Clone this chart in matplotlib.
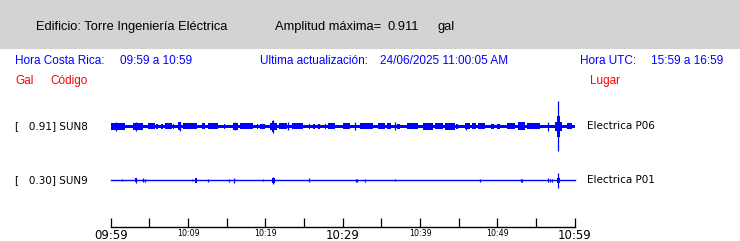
import matplotlib.pyplot as plt
from matplotlib.patches import Rectangle

# header texts
building = 'Edificio: Torre Ingeniería Eléctrica'
max_amp = 0.911
local_range = '09:59 a 10:59'
utc_range = '15:59 a 16:59'
updated = '24/06/2025 11:00:05 AM'

# stations (top to bottom)
codes = ['SUN8', 'SUN9']
peaks = [0.91, 0.30]
places = ['Electrica P06', 'Electrica P01']

# time axis, minutes after 09:59
tick_minutes = list(range(0, 61, 5))
tick_labels = ['09:59', '', '10:09', '', '10:19', '', '10:29', '', '10:39', '', '10:49', '', '10:59']
big_labels = ['09:59', '10:29', '10:59']

# trace envelopes, in gal
# base half width of each trace
sun8_base = 0.055
sun9_base = 0.0
# (start min, end min, half amplitude)
sun8_blocks = [
    (0.0, 1.85, 0.12), (2.93, 4.2, 0.12), (4.87, 5.73, 0.11), (5.9, 6.1, 0.10),
    (6.5, 6.7, 0.10), (7.0, 7.9, 0.11), (8.0, 8.2, 0.10), (8.75, 9.1, 0.15),
    (9.4, 11.1, 0.11), (11.8, 12.2, 0.11), (12.6, 13.9, 0.11), (14.6, 14.8, 0.10),
    (15.85, 16.5, 0.12), (16.7, 18.45, 0.11), (18.9, 19.1, 0.10), (19.3, 20.0, 0.09),
    (20.6, 21.5, 0.13), (20.85, 21.1, 0.19), (21.7, 22.8, 0.11), (23.4, 24.9, 0.11),
    (25.6, 25.8, 0.10), (26.2, 26.4, 0.10), (26.85, 27.1, 0.10), (27.7, 27.9, 0.10),
    (28.1, 29.0, 0.11), (30.1, 31.0, 0.11), (32.2, 33.9, 0.11), (34.6, 35.5, 0.11),
    (35.7, 36.3, 0.11), (37.0, 37.4, 0.10), (38.3, 39.8, 0.11), (40.4, 41.7, 0.12),
    (41.9, 43.0, 0.11), (43.2, 44.5, 0.12), (44.7, 44.95, 0.10), (45.8, 46.5, 0.11),
    (46.7, 47.3, 0.11), (47.5, 48.4, 0.11), (49.2, 49.5, 0.10), (49.9, 50.35, 0.10),
    (51.2, 52.3, 0.11), (52.7, 53.6, 0.14), (53.8, 55.5, 0.11), (57.45, 58.3, 0.16),
    (57.75, 58.05, 0.38), (58.95, 59.6, 0.11),
]
# (minute, half amplitude)
sun8_spikes = [
    (0.69, 0.16), (3.23, 0.16), (9.0, 0.17), (16.1, 0.14), (20.95, 0.23),
    (22.98, 0.14), (31.6, 0.14), (36.7, 0.14), (45.9, 0.13), (56.5, 0.17),
    (57.9, 0.91),
]
sun9_blocks = [
    (3.15, 3.35, 0.07), (10.95, 11.1, 0.09), (20.8, 21.3, 0.08), (57.7, 58.1, 0.10),
]
sun9_spikes = [
    (1.42, 0.04), (3.23, 0.08), (4.22, 0.07), (4.44, 0.05), (10.56, 0.04),
    (12.63, 0.06), (15.3, 0.06), (16.0, 0.09), (19.7, 0.04), (21.0, 0.12),
    (25.7, 0.07), (31.7, 0.06), (31.9, 0.06), (32.9, 0.05), (36.8, 0.04),
    (47.75, 0.05), (53.0, 0.05), (53.2, 0.05), (56.5, 0.07), (56.8, 0.05),
    (57.0, 0.06), (57.9, 0.27),
]

traces = [
    (sun8_base, sun8_blocks, sun8_spikes),
    (sun9_base, sun9_blocks, sun9_spikes),
]

BLUE = '#0000ff'
RED = '#ff0000'
W, H = 740, 241

fig = plt.figure(figsize=(7.4, 2.41), dpi=100)


def fx(px):
    return px / W


def fy(py):
    return 1 - py / H


# grey header band
fig.patches.append(Rectangle((0, fy(49)), 1, 49 / H, transform=fig.transFigure,
                             facecolor='#d3d3d3', edgecolor='none', zorder=0))

title_font = ['Liberation Sans Narrow', 'Liberation Sans', 'DejaVu Sans']
tsize = 9.3
fig.text(fx(36), fy(30), building, fontsize=tsize, family=title_font, va='baseline')
fig.text(fx(275), fy(30), 'Amplitud máxima=', fontsize=tsize, family=title_font, va='baseline')
fig.text(fx(388), fy(30), f'{max_amp:.3f}', fontsize=tsize, family=title_font, va='baseline')
fig.text(fx(437.5), fy(30), 'gal', fontsize=tsize, family=title_font, va='baseline')

row_font = ['Liberation Sans', 'DejaVu Sans']
rsize = 8.5
row = [(15, 'Hora Costa Rica:'), (120, local_range), (260, 'Ultima actualización:'),
       (380, updated), (580.5, 'Hora UTC:'), (651, utc_range)]
for x, s in row:
    fig.text(fx(x), fy(64.5), s, fontsize=rsize, family=row_font, color=BLUE, va='baseline')
for x, s in [(15, 'Gal'), (50, 'Código'), (590, 'Lugar')]:
    fig.text(fx(x), fy(84), s, fontsize=rsize, family=row_font, color=RED, va='baseline')

# trace panel
x0, x1 = 110.7, 574.7
ytop, ybot = 95, 227.3
ax = fig.add_axes([fx(x0), fy(ybot), (x1 - x0) / W, (ybot - ytop) / H])
px_per_gal = 27.5
ax.set_ylim(0, (ybot - ytop) / px_per_gal)
ax.set_xlim(0, 60)
centers_px = [126.3, 180.3]

for (base, blocks, spikes), cpx, code, pk, place in zip(traces, centers_px, codes, peaks, places):
    off = (ybot - cpx) / px_per_gal
    if base > 0:
        ax.fill_between([0, 60.05], off - base, off + base, color=BLUE, lw=0, clip_on=False)
    else:
        ax.plot([0, 60.05], [off, off], color=BLUE, lw=1.0, clip_on=False)
    for t0, t1, a in blocks:
        ax.fill_between([t0, t1], off - a, off + a, color=BLUE, lw=0)
    for t, a in spikes:
        ax.vlines(t, off - a, off + a, color=BLUE, lw=0.9)
    fig.text(fx(15), fy(cpx), f'[   {pk:.2f}] {code}', fontsize=7.5, va='center')
    fig.text(fx(587), fy(cpx), place, fontsize=7.5, va='center')

for s in ['top', 'left', 'right']:
    ax.spines[s].set_visible(False)
ax.spines['bottom'].set_linewidth(1.0)
ax.set_yticks([])
ax.set_xticks(tick_minutes)
ax.set_xticklabels(tick_labels)
ax.tick_params(axis='x', direction='in', length=6.5, width=0.9, pad=1.5)
for lbl in ax.get_xticklabels():
    lbl.set_fontsize(8.5 if lbl.get_text() in big_labels else 5.8)

fig.savefig('out.png', dpi=100)
